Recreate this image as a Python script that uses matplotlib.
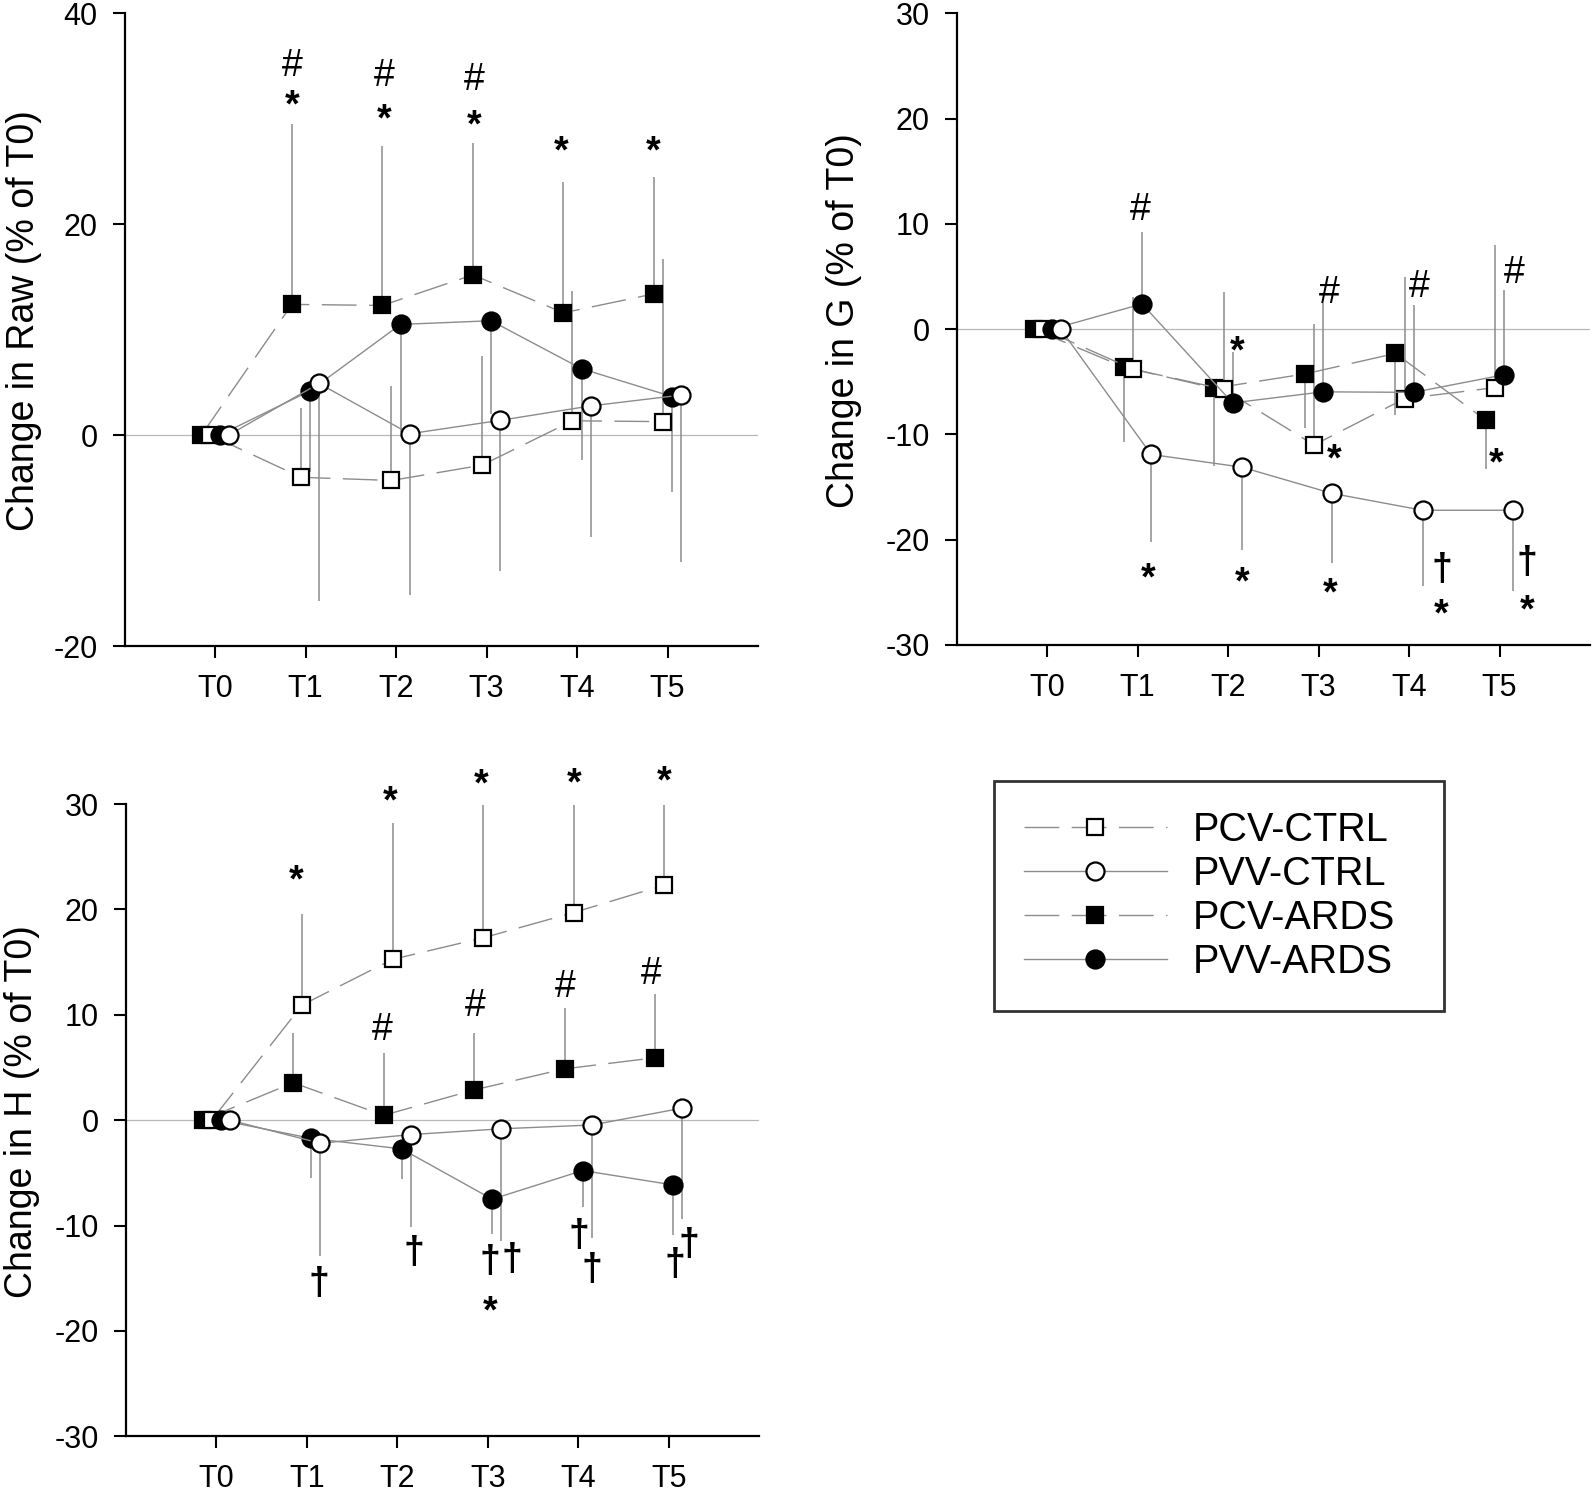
import matplotlib
matplotlib.use("Agg")
import matplotlib.pyplot as plt
from matplotlib.lines import Line2D

plt.rcParams['font.family'] = ['Liberation Sans', 'DejaVu Sans']
plt.rcParams['axes.unicode_minus'] = False

# ---------------- data ----------------
timepoints = ["T0", "T1", "T2", "T3", "T4", "T5"]
series_names = ["PCV-CTRL", "PVV-CTRL", "PCV-ARDS", "PVV-ARDS"]

# Raw panel: means and error-bar end values
raw_pcv_ctrl = [0, -4.0, -4.3, -2.85, 1.36, 1.28]
raw_pcv_ctrl_bar = [0, 2.6, 4.7, 7.5, 13.7, 16.7]
raw_pvv_ctrl = [0, 4.9, 0.13, 1.4, 2.77, 3.8]
raw_pvv_ctrl_bar = [0, -15.7, -15.2, -12.85, -9.66, -12.0]
raw_pcv_ards = [0, 12.4, 12.3, 15.2, 11.6, 13.4]
raw_pcv_ards_bar = [0, 29.5, 27.4, 27.7, 24.0, 24.5]
raw_pvv_ards = [0, 4.2, 10.5, 10.85, 6.3, 3.66]
raw_pvv_ards_bar = [0, -3.5, 0.3, 2.0, -2.4, -5.4]

# G panel
g_pcv_ctrl = [0, -3.8, -5.7, -11.0, -6.6, -5.55]
g_pcv_ctrl_bar = [0, 3.1, 3.5, 0.5, 5.0, 8.0]
g_pvv_ctrl = [0, -11.9, -13.1, -15.6, -17.2, -17.2]
g_pvv_ctrl_bar = [0, -20.2, -21.0, -22.25, -24.4, -24.9]
g_pcv_ards = [0, -3.6, -5.6, -4.25, -2.3, -8.65]
g_pcv_ards_bar = [0, -10.7, -12.95, -9.4, -8.15, -13.25]
g_pvv_ards = [0, 2.4, -7.0, -5.95, -6.0, -4.33]
g_pvv_ards_bar = [0, 9.2, -2.2, 2.5, 2.3, 3.7]

# H panel
h_pcv_ctrl = [0, 10.93, 15.26, 17.3, 19.7, 22.3]
h_pcv_ctrl_bar = [0, 19.6, 28.2, 29.9, 29.9, 29.9]
h_pvv_ctrl = [0, -2.19, -1.37, -0.82, -0.46, 1.14]
h_pvv_ctrl_bar = [0, -12.85, -10.16, -11.5, -11.16, -9.34]
h_pcv_ards = [0, 3.55, 0.46, 2.87, 4.87, 5.92]
h_pcv_ards_bar = [0, 8.3, 6.4, 8.3, 10.6, 12.0]
h_pvv_ards = [0, -1.73, -2.73, -7.5, -4.78, -6.15]
h_pvv_ards_bar = [0, -5.47, -5.56, -10.8, -8.2, -10.93]

# significance marks: (symbol, x, y) in data coordinates
raw_marks = [("#", 0.85, 35.4), ("*", 0.85, 32.3), ("#", 1.865, 34.4), ("*", 1.865, 31.0),
             ("#", 2.86, 34.0), ("*", 2.86, 30.4), ("*", 3.82, 27.9), ("*", 4.84, 27.9)]
g_marks = [("#", 1.035, 11.7), ("*", 2.095, -1.1), ("#", 3.12, 3.74), ("*", 3.17, -11.3),
           ("#", 4.11, 4.37), ("#", 5.16, 5.65), ("*", 4.96, -11.75),
           ("*", 1.12, -22.6), ("*", 2.16, -23.0), ("*", 3.13, -24.1),
           ("\u2020", 4.36, -22.8), ("*", 4.36, -26.1), ("\u2020", 5.3, -22.1), ("*", 5.3, -25.7)]
h_marks = [("*", 0.88, 23.8), ("*", 1.92, 31.3), ("*", 2.93, 32.9), ("*", 3.96, 33.0), ("*", 4.95, 33.2),
           ("#", 1.83, 8.9), ("#", 2.86, 11.2), ("#", 3.86, 13.0), ("#", 4.81, 14.2),
           ("\u2020", 1.135, -15.5), ("\u2020", 2.18, -12.5), ("\u2020", 3.03, -13.4), ("*", 3.03, -17.1),
           ("\u2020", 3.27, -13.2), ("\u2020", 4.01, -10.9), ("\u2020", 4.15, -14.1),
           ("\u2020", 5.07, -13.7), ("\u2020", 5.22, -11.8)]

# ---------------- style ----------------
LINE_GRAY = '#8c8c8c'
ERR_GRAY = '#8c8c8c'
ZERO_GRAY = '#b8b8b8'
DASH = (25, 9)
styles = {
    "PCV-ARDS": dict(marker='s', mfc='black', ms=11, dashes=DASH, off=-0.15),
    "PCV-CTRL": dict(marker='s', mfc='white', ms=11, dashes=DASH, off=-0.05),
    "PVV-ARDS": dict(marker='o', mfc='black', ms=13, dashes=None, off=0.05),
    "PVV-CTRL": dict(marker='o', mfc='white', ms=13, dashes=None, off=0.15),
}
draw_order = ["PCV-ARDS", "PCV-CTRL", "PVV-ARDS", "PVV-CTRL"]
mark_style = {"*": dict(size=27, weight='bold', dy=-8.6),
              "#": dict(size=27, weight='normal', dy=-2.6),
              "\u2020": dict(size=27, weight='bold', dy=-0.6)}

W, H = 1593, 1494
fig = plt.figure(figsize=(W / 100, H / 100), dpi=100)


def axes_px(left, top, right, bottom):
    return fig.add_axes([left / W, 1 - bottom / H, (right - left) / W, (bottom - top) / H])


def style_axes(ax, ylim, yticks, ylabel, labx, laby):
    ax.set_xlim(-1, 6)
    ax.set_ylim(*ylim)
    ax.set_xticks(range(len(timepoints)))
    ax.set_xticklabels(timepoints)
    ax.set_yticks(yticks)
    ax.set_yticklabels([str(t) for t in yticks])
    for s in ('top', 'right'):
        ax.spines[s].set_visible(False)
    for s in ('left', 'bottom'):
        ax.spines[s].set_linewidth(1.6)
    ax.tick_params(axis='both', direction='out', length=8.3, width=1.5, labelsize=22)
    ax.tick_params(axis='x', pad=12)
    ax.tick_params(axis='y', pad=11)
    ax.axhline(0, color=ZERO_GRAY, lw=0.9, zorder=0)
    ax.set_ylabel(ylabel, fontsize=27, va='center')
    ax.yaxis.set_label_coords(labx, laby)
    ax.patch.set_alpha(0)


def draw_panel(ax, data, marks):
    for z, name in enumerate(draw_order):
        mean, bar = data[name]
        st = styles[name]
        xs = [i + st['off'] for i in range(len(mean))]
        lower = [max(m - b, 0) for m, b in zip(mean, bar)]
        upper = [max(b - m, 0) for m, b in zip(mean, bar)]
        ax.errorbar(xs, mean, yerr=[lower, upper], fmt='none', ecolor=ERR_GRAY,
                    elinewidth=1.1, capsize=0, zorder=2 + z * 0.1)
        kw = dict(color=LINE_GRAY, lw=1.0, marker=st['marker'], ms=st['ms'],
                  mfc=st['mfc'], mec='black', mew=1.6, zorder=3 + z * 0.1)
        line, = ax.plot(xs, mean, **kw)
        if st['dashes']:
            line.set_dashes(st['dashes'])
    for sym, x, y in marks:
        ms = mark_style[sym]
        ax.annotate(sym, xy=(x, y), xytext=(0, ms['dy']), textcoords='offset points',
                    ha='center', va='center', fontsize=ms['size'], fontweight=ms['weight'],
                    zorder=6, annotation_clip=False)


ax_raw = axes_px(124.5, 13.4, 758, 646)
ax_g = axes_px(956.6, 13.4, 1590, 645)
ax_h = axes_px(125.7, 804, 759.2, 1436.3)

draw_panel(ax_raw, {"PCV-CTRL": (raw_pcv_ctrl, raw_pcv_ctrl_bar),
                    "PVV-CTRL": (raw_pvv_ctrl, raw_pvv_ctrl_bar),
                    "PCV-ARDS": (raw_pcv_ards, raw_pcv_ards_bar),
                    "PVV-ARDS": (raw_pvv_ards, raw_pvv_ards_bar)}, raw_marks)
style_axes(ax_raw, (-20, 40), [-20, 0, 20, 40], "Change in Raw (% of T0)", -0.158, 0.515)

draw_panel(ax_g, {"PCV-CTRL": (g_pcv_ctrl, g_pcv_ctrl_bar),
                  "PVV-CTRL": (g_pvv_ctrl, g_pvv_ctrl_bar),
                  "PCV-ARDS": (g_pcv_ards, g_pcv_ards_bar),
                  "PVV-ARDS": (g_pvv_ards, g_pvv_ards_bar)}, g_marks)
style_axes(ax_g, (-30, 30), [-30, -20, -10, 0, 10, 20, 30], "Change in G (% of T0)", -0.177, 0.513)

draw_panel(ax_h, {"PCV-CTRL": (h_pcv_ctrl, h_pcv_ctrl_bar),
                  "PVV-CTRL": (h_pvv_ctrl, h_pvv_ctrl_bar),
                  "PCV-ARDS": (h_pcv_ards, h_pcv_ards_bar),
                  "PVV-ARDS": (h_pvv_ards, h_pvv_ards_bar)}, h_marks)
style_axes(ax_h, (-30, 30), [-30, -20, -10, 0, 10, 20, 30], "Change in H (% of T0)", -0.164, 0.513)

# ---------------- legend ----------------
handles = []
for name in series_names:
    st = styles[name]
    h = Line2D([], [], color=LINE_GRAY, lw=1.0, marker=st['marker'], ms=st['ms'],
               mfc=st['mfc'], mec='black', mew=1.6)
    if st['dashes']:
        h.set_dashes(st['dashes'])
    handles.append(h)

lx0, ly0, lx1, ly1 = 994, 780.7, 1444, 1009
leg = fig.legend(handles, series_names, loc='upper left',
                 bbox_to_anchor=(lx0 / W, 1 - ly1 / H, (lx1 - lx0) / W, (ly1 - ly0) / H),
                 mode='expand', frameon=True, fancybox=False, edgecolor='black',
                 fontsize=28.5, handlelength=3.6, handletextpad=0.65, borderpad=0.76,
                 labelspacing=0.156, borderaxespad=0, numpoints=1)
leg.get_frame().set_linewidth(2.0)

fig.savefig("out.png", dpi=100)
